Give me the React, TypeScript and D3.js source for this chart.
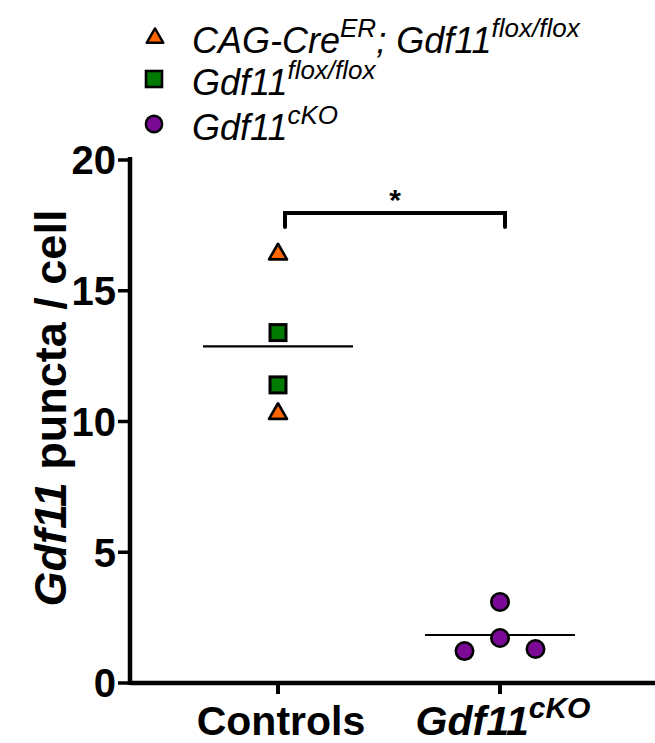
import React, { useEffect, useRef } from "react";
import * as d3 from "d3";

const groups = ["Controls", "Gdf11cKO"];
const yTicks = [0, 5, 10, 15, 20];
const controlTriangles = [16.4, 10.3];
const controlSquares = [13.4, 11.4];
const ckoCircles = [3.1, 1.72, 1.22, 1.3];
const ckoJitter = [0, 0, -1, 1];

export default function App() {
  const ref = useRef<SVGSVGElement | null>(null);

  useEffect(() => {
    const svg = d3.select(ref.current);
    svg.selectAll("*").remove();
    const font = "Arial, 'Liberation Sans', sans-serif";

    const y = d3.scaleLinear().domain([0, 20]).range([683, 160]);
    const x = d3.scalePoint().domain(groups).range([278, 500]);
    const axisX = 130;

    // axes
    svg.append("line").attr("x1", axisX).attr("x2", axisX).attr("y1", y(20) - 3).attr("y2", y(0) + 2)
      .attr("stroke", "#000").attr("stroke-width", 4.5);
    svg.append("line").attr("x1", axisX).attr("x2", 655).attr("y1", y(0)).attr("y2", y(0))
      .attr("stroke", "#000").attr("stroke-width", 4.5);

    yTicks.forEach(t => {
      svg.append("line").attr("x1", axisX - 12).attr("x2", axisX).attr("y1", y(t)).attr("y2", y(t))
        .attr("stroke", "#000").attr("stroke-width", 3.5);
      svg.append("text").attr("x", axisX - 14).attr("y", y(t)).attr("dy", "0.36em")
        .attr("text-anchor", "end").attr("font-family", font).attr("font-weight", "bold")
        .attr("font-size", 40).text(String(t));
    });

    groups.forEach(gname => {
      svg.append("line").attr("x1", x(gname)!).attr("x2", x(gname)!).attr("y1", y(0)).attr("y2", y(0) + 11)
        .attr("stroke", "#000").attr("stroke-width", 4);
    });

    // x labels
    svg.append("text").attr("x", 281).attr("y", 735).attr("text-anchor", "middle")
      .attr("font-family", font).attr("font-weight", "bold").attr("font-size", 41).text("Controls");
    const xl = svg.append("text").attr("x", 503).attr("y", 735).attr("text-anchor", "middle")
      .attr("font-family", font).attr("font-weight", "bold").attr("font-style", "italic").attr("font-size", 41);
    xl.append("tspan").text("Gdf11");
    xl.append("tspan").attr("dy", -17).attr("font-size", 30).text("cKO");

    // y label
    const yl = svg.append("text").attr("transform", `translate(66,${408}) rotate(-90)`).attr("text-anchor", "middle")
      .attr("font-family", font).attr("font-weight", "bold").attr("font-size", 45);
    yl.append("tspan").attr("font-style", "italic").text("Gdf11");
    yl.append("tspan").text(" puncta / cell");

    // mean lines
    const means = [d3.mean([...controlTriangles, ...controlSquares])!, d3.mean(ckoCircles)!];
    groups.forEach((gname, i) => {
      svg.append("line").attr("x1", x(gname)! - 75).attr("x2", x(gname)! + 75)
        .attr("y1", y(means[i])).attr("y2", y(means[i])).attr("stroke", "#000").attr("stroke-width", 2.2);
    });

    const tri = d3.symbol().type(d3.symbolTriangle).size(140);

    controlTriangles.forEach(v => {
      svg.append("path").attr("d", tri()!).attr("transform", `translate(${x("Controls")},${y(v)})`)
        .attr("fill", "#FF6600").attr("stroke", "#000").attr("stroke-width", 2.6).attr("stroke-linejoin", "round");
    });
    controlSquares.forEach(v => {
      svg.append("rect").attr("x", x("Controls")! - 8).attr("y", y(v) - 8).attr("width", 16).attr("height", 16)
        .attr("fill", "#007A00").attr("stroke", "#000").attr("stroke-width", 3);
    });
    ckoCircles.forEach((v, i) => {
      svg.append("circle").attr("cx", x("Gdf11cKO")! + ckoJitter[i] * 35.5).attr("cy", y(v))
        .attr("r", 8.7)
        .attr("fill", "#7A0A96").attr("stroke", "#000").attr("stroke-width", 2.6);
    });

    // significance bracket
    const by = 213;
    svg.append("path").attr("d", `M${x("Controls")! + 7},${by + 14}V${by}H${x("Gdf11cKO")! + 5}V${by + 14}`)
      .attr("fill", "none").attr("stroke", "#000").attr("stroke-width", 4).attr("stroke-linecap", "round");
    svg.append("text").attr("x", 395).attr("y", 210).attr("text-anchor", "middle")
      .attr("font-family", font).attr("font-weight", "bold").attr("font-size", 30).text("*");

    // legend
    const legend = [
      { shape: "tri", fill: "#FF6600", base: "CAG-Cre", sup1: "ER", mid: "; Gdf11", sup2: "flox/flox", y: 37 },
      { shape: "sq", fill: "#007A00", base: "Gdf11", sup1: "flox/flox", mid: "", sup2: "", y: 79 },
      { shape: "circ", fill: "#7A0A96", base: "Gdf11", sup1: "cKO", mid: "", sup2: "", y: 124 },
    ];
    legend.forEach(l => {
      if (l.shape === "tri") {
        svg.append("path").attr("d", d3.symbol().type(d3.symbolTriangle).size(120)()!)
          .attr("transform", `translate(155,${l.y + 1})`).attr("fill", l.fill).attr("stroke", "#000")
          .attr("stroke-width", 2.4).attr("stroke-linejoin", "round");
      } else if (l.shape === "sq") {
        svg.append("rect").attr("x", 146).attr("y", l.y - 8).attr("width", 16).attr("height", 16)
          .attr("fill", l.fill).attr("stroke", "#000").attr("stroke-width", 2.6);
      } else {
        svg.append("circle").attr("cx", 154).attr("cy", l.y).attr("r", 8.2)
          .attr("fill", l.fill).attr("stroke", "#000").attr("stroke-width", 2.4);
      }
      const t = svg.append("text").attr("x", 192).attr("y", l.y + 16).attr("font-family", font)
        .attr("font-style", "italic").attr("font-size", 36);
      t.append("tspan").text(l.base);
      t.append("tspan").attr("dy", -16).attr("font-size", 26).text(l.sup1);
      if (l.mid) {
        t.append("tspan").attr("dy", 16).attr("font-size", 36).text(l.mid);
        t.append("tspan").attr("dy", -16).attr("font-size", 26).text(l.sup2);
      }
    });
  }, []);

  return (
    <svg ref={ref} width={655} height={743}
      style={{ position: "absolute", left: 0, top: 0, background: "#fff" }} />
  );
}
